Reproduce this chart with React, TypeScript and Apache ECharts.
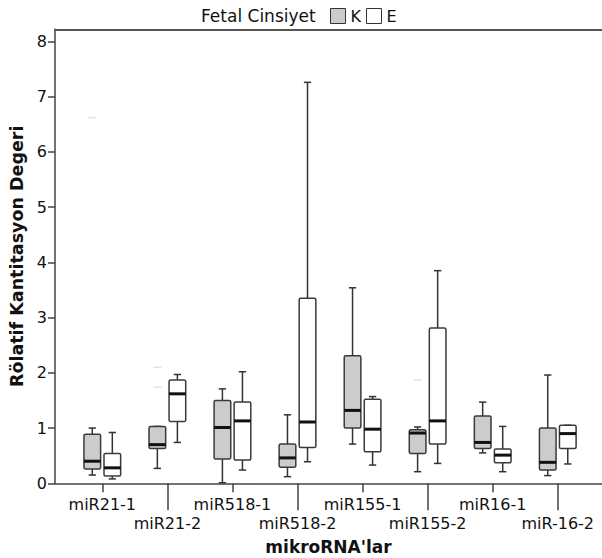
import React, { useEffect, useRef } from "react";
import * as echarts from "echarts";

const categories = ["miR21-1", "miR21-2", "miR518-1", "miR518-2", "miR155-1", "miR155-2", "miR16-1", "miR-16-2"];
const legendTitle = "Fetal Cinsiyet";
const groupNames = ["K", "E"];
// [lower whisker, Q1, median, Q3, upper whisker]
const kBoxes = [
  [0.15, 0.26, 0.4, 0.89, 1.0],
  [0.27, 0.63, 0.7, 1.03, 1.03],
  [0.01, 0.44, 1.01, 1.5, 1.71],
  [0.12, 0.29, 0.46, 0.71, 1.24],
  [0.71, 1.0, 1.32, 2.31, 3.54],
  [0.21, 0.54, 0.91, 0.97, 1.02],
  [0.55, 0.63, 0.74, 1.22, 1.47],
  [0.14, 0.24, 0.38, 1.0, 1.96],
];
const eBoxes = [
  [0.08, 0.13, 0.28, 0.54, 0.92],
  [0.74, 1.12, 1.62, 1.87, 1.97],
  [0.24, 0.42, 1.13, 1.47, 2.02],
  [0.39, 0.65, 1.11, 3.35, 7.26],
  [0.33, 0.57, 0.98, 1.52, 1.57],
  [0.36, 0.71, 1.13, 2.81, 3.85],
  [0.21, 0.37, 0.51, 0.62, 1.03],
  [0.35, 0.63, 0.9, 1.05, 1.05],
];
// faint outlier marks (category index, value) for K
const kOutliers = [
  [0, 6.62],
  [1, 2.1],
  [1, 1.74],
  [5, 1.87],
];
const yTicks = [0, 1, 2, 3, 4, 5, 6, 7, 8];
const rowOneTicks = [0, 2, 4, 6];
const rowTwoTicks = [1, 3, 5, 7];

const FONT = "DejaVu Sans";
const AXIS_COLOR = "#444";
const TEXT_COLOR = "#111";
const SIDE_OFFSET = 0.154;
const HALF_WIDTH = 0.128;
const CAP_HALF = 0.056;

function makeRenderItem(side: number, fill: string) {
  return (params: any, api: any) => {
    const idx = api.value(0);
    const low = api.value(1);
    const q1 = api.value(2);
    const med = api.value(3);
    const q3 = api.value(4);
    const high = api.value(5);
    const unit = api.size([1, 0])[0];
    const cx = api.coord([idx, 0])[0] + side * SIDE_OFFSET * unit;
    const hw = HALF_WIDTH * unit;
    const cw = CAP_HALF * unit;
    const yLow = api.coord([idx, low])[1];
    const yQ1 = api.coord([idx, q1])[1];
    const yMed = api.coord([idx, med])[1];
    const yQ3 = api.coord([idx, q3])[1];
    const yHigh = api.coord([idx, high])[1];
    const ls = { stroke: "#333", lineWidth: 1.5 };
    return {
      type: "group",
      children: [
        { type: "line", shape: { x1: cx, y1: yHigh, x2: cx, y2: yQ3 }, style: ls },
        { type: "line", shape: { x1: cx - cw, y1: yHigh, x2: cx + cw, y2: yHigh }, style: ls },
        { type: "line", shape: { x1: cx, y1: yQ1, x2: cx, y2: yLow }, style: ls },
        { type: "line", shape: { x1: cx - cw, y1: yLow, x2: cx + cw, y2: yLow }, style: ls },
        {
          type: "rect",
          shape: { x: cx - hw, y: yQ3, width: 2 * hw, height: Math.max(yQ1 - yQ3, 0.5), r: 1.5 },
          style: { fill, stroke: "#3a3a3a", lineWidth: 1.5 },
        },
        { type: "line", shape: { x1: cx - hw, y1: yMed, x2: cx + hw, y2: yMed }, style: { stroke: "#111", lineWidth: 3 } },
      ],
    };
  };
}

export default function App() {
  const ref = useRef<HTMLDivElement>(null);
  useEffect(() => {
    if (!ref.current) return;
    const chart = echarts.init(ref.current, undefined, { renderer: "svg" });
    const xCommon = {
      type: "value" as const,
      min: -0.727,
      max: 7.68,
      splitLine: { show: false },
    };
    const option: any = {
      animation: false,
      backgroundColor: "#fff",
      textStyle: { fontFamily: FONT },
      title: {
        text: legendTitle,
        left: 196,
        top: 2,
        textStyle: { fontFamily: FONT, fontSize: 17, fontWeight: "normal", color: TEXT_COLOR },
      },
      legend: {
        left: 325,
        top: 3,
        itemWidth: 15,
        itemHeight: 15,
        itemGap: 5,
        textStyle: { fontFamily: FONT, fontSize: 16, color: TEXT_COLOR },
        data: [
          { name: groupNames[0], icon: "rect", itemStyle: { color: "#cccccc", borderColor: "#333", borderWidth: 1 } },
          { name: groupNames[1], icon: "rect", itemStyle: { color: "#ffffff", borderColor: "#333", borderWidth: 1 } },
        ],
      },
      grid: { left: 55, right: 0, top: 29.3, bottom: 74.7, containLabel: false, outerBoundsMode: "none" },
      xAxis: [
        {
          ...xCommon,
          position: "bottom",
          axisLine: { show: true, onZero: false, lineStyle: { color: AXIS_COLOR, width: 1.5 } },
          axisTick: { show: true, customValues: rowOneTicks, length: 9, lineStyle: { color: AXIS_COLOR, width: 1.5 } },
          axisLabel: {
            customValues: rowOneTicks,
            formatter: (v: number) => categories[Math.round(v)] ?? "",
            margin: 13,
            fontFamily: FONT,
            fontSize: 16,
            color: TEXT_COLOR,
          },
          name: "mikroRNA'lar",
          nameLocation: "middle",
          nameGap: 55,
          nameTextStyle: { fontFamily: FONT, fontSize: 17, fontWeight: "bold", color: TEXT_COLOR },
        },
        {
          ...xCommon,
          position: "bottom",
          axisLine: { show: false, onZero: false },
          axisTick: { show: true, customValues: rowTwoTicks, length: 27, lineStyle: { color: AXIS_COLOR, width: 1.5 } },
          axisLabel: {
            customValues: rowTwoTicks,
            formatter: (v: number) => categories[Math.round(v)] ?? "",
            margin: 32,
            fontFamily: FONT,
            fontSize: 16,
            color: TEXT_COLOR,
          },
        },
        {
          ...xCommon,
          position: "top",
          axisLine: { show: true, onZero: false, lineStyle: { color: "#555", width: 2 } },
          axisTick: { show: false },
          axisLabel: { show: false },
        },
      ],
      yAxis: {
        type: "value",
        min: 0,
        max: 8.22,
        position: "left",
        splitLine: { show: false },
        axisLine: { show: true, onZero: false, lineStyle: { color: AXIS_COLOR, width: 1.5 } },
        axisTick: { show: true, customValues: yTicks, length: 7, lineStyle: { color: AXIS_COLOR, width: 1.5 } },
        axisLabel: { customValues: yTicks, margin: 8, fontFamily: FONT, fontSize: 16, color: TEXT_COLOR },
        name: "Rölatif Kantitasyon Degeri",
        nameLocation: "middle",
        nameRotate: 90,
        nameGap: 19,
        nameTextStyle: { fontFamily: FONT, fontSize: 17.5, fontWeight: "bold", color: TEXT_COLOR },
      },
      series: [
        {
          name: groupNames[0],
          type: "custom",
          xAxisIndex: 0,
          itemStyle: { color: "#cccccc" },
          renderItem: makeRenderItem(-1, "#cccccc"),
          encode: { x: 0, y: [1, 2, 3, 4, 5] },
          data: kBoxes.map((b, i) => [i, ...b]),
          clip: false,
        },
        {
          name: groupNames[1],
          type: "custom",
          xAxisIndex: 0,
          itemStyle: { color: "#ffffff" },
          renderItem: makeRenderItem(1, "#ffffff"),
          encode: { x: 0, y: [1, 2, 3, 4, 5] },
          data: eBoxes.map((b, i) => [i, ...b]),
          clip: false,
        },
        {
          name: "outliers",
          type: "scatter",
          xAxisIndex: 0,
          symbol: "rect",
          symbolSize: [8, 1.5],
          symbolOffset: [-10, 0],
          itemStyle: { color: "#dddddd" },
          silent: true,
          data: kOutliers,
        },
      ],
    };
    chart.setOption(option);
    return () => chart.dispose();
  }, []);
  return (
    <div
      ref={ref}
      style={{ position: "absolute", left: 0, top: 0, width: 602, height: 558, background: "#fff" }}
    />
  );
}
